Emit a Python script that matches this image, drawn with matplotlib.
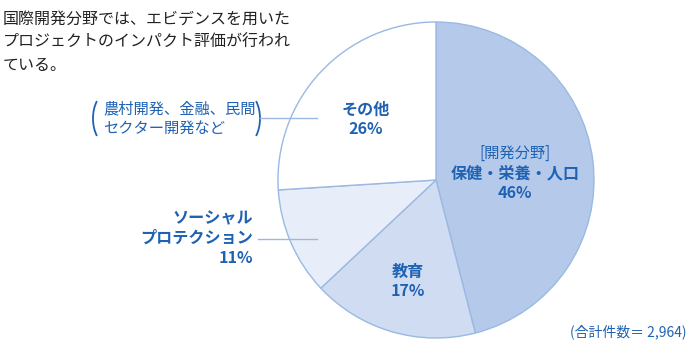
import matplotlib
matplotlib.use("Agg")
import matplotlib.pyplot as plt
from matplotlib.patches import Arc

plt.rcParams['font.family'] = ['Noto Sans CJK JP', 'DejaVu Sans']

categories = ["保健・栄養・人口", "教育", "ソーシャル\nプロテクション", "その他"]
values = [46, 17, 11, 26]
total_label = "(合計件数＝ 2,964)"
title = "国際開発分野では、エビデンスを用いた\nプロジェクトのインパクト評価が行われ\nている。"

W, H = 690, 357
fig = plt.figure(figsize=(W / 100, H / 100), dpi=100)
ax = fig.add_axes([0, 0, 1, 1])

def Y(y):
    return H - y

blue = '#1f62b3'
edge = '#9ab9e2'
colors = ['#b5caea', '#cfdcf2', '#e8eef9', '#ffffff']

ax.pie(values, colors=colors, startangle=90, counterclock=False,
       center=(436, Y(180)), radius=158, frame=True,
       wedgeprops=dict(edgecolor=edge, linewidth=1.0))
ax.set_xlim(0, W)
ax.set_ylim(0, H)
ax.set_aspect('equal')
ax.axis('off')

fs = 11.6

# Title
ax.text(3, Y(11), title, ha='left', va='top', fontsize=11.5,
        color='#222222', linespacing=1.45)

# Labels inside
ax.text(515, Y(153), "[開発分野]", ha='center', va='center', fontsize=11, color=blue)
ax.text(515, Y(173), categories[0], ha='center', va='center', fontsize=fs,
        color=blue, fontweight='bold')
ax.text(515, Y(193), f"{values[0]}%", ha='center', va='center', fontsize=fs,
        color=blue, fontweight='bold')

ax.text(408, Y(272), categories[1], ha='center', va='center', fontsize=fs,
        color=blue, fontweight='bold')
ax.text(408, Y(291), f"{values[1]}%", ha='center', va='center', fontsize=fs,
        color=blue, fontweight='bold')

ax.text(366, Y(110), categories[3], ha='center', va='center', fontsize=fs,
        color=blue, fontweight='bold')
ax.text(366, Y(129), f"{values[3]}%", ha='center', va='center', fontsize=fs,
        color=blue, fontweight='bold')

# Social protection label (outside)
sp_lines = categories[2].split("\n") + [f"{values[2]}%"]
for i, t in enumerate(sp_lines):
    ax.text(253, Y(218 + 20 * i), t, ha='right', va='center', fontsize=fs,
            color=blue, fontweight='bold')
ax.plot([258, 317], [Y(239), Y(239)], color=edge, lw=1.0)

# Others note with parentheses
ax.text(103, Y(109), "農村開発、金融、民間", ha='left', va='center', fontsize=11, color=blue)
ax.text(103, Y(128), "セクター開発など", ha='left', va='center', fontsize=11, color=blue)
ax.add_patch(Arc((107, Y(118.5)), 28, 50, theta1=120, theta2=240, color=blue, lw=1.3))
ax.add_patch(Arc((246, Y(118.5)), 28, 50, theta1=-60, theta2=60, color=blue, lw=1.3))
ax.plot([260, 317], [Y(118), Y(118)], color=edge, lw=1.0)

ax.text(686, Y(332), total_label, ha='right', va='center', fontsize=10, color=blue)

fig.savefig("out.png", dpi=100)
